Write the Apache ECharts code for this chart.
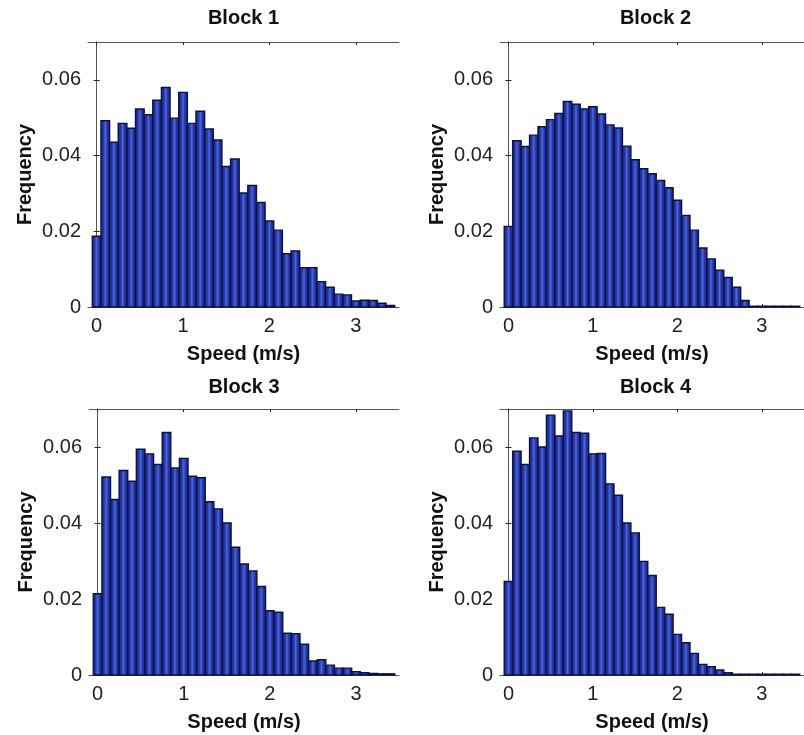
<!DOCTYPE html>
<html>
<head>
<meta charset="utf-8">
<script src="https://cdn.jsdelivr.net/npm/echarts@6/dist/echarts.min.js"></script>
<style>html,body{margin:0;padding:0;background:#fff}#c{width:804px;height:735px}</style>
</head>
<body>
<div id="c"></div>
<script>
const titles = ['Block 1', 'Block 2', 'Block 3', 'Block 4'];
const xName = 'Speed (m/s)';
const yName = 'Frequency';
const xTicks = [0, 1, 2, 3];
const yTicks = [0, 0.02, 0.04, 0.06];
const binCenters = [0.0,0.1,0.2,0.3,0.4,0.5,0.6,0.7,0.8,0.9,1.0,1.1,1.2,1.3,1.4,1.5,1.6,1.7,1.8,1.9,2.0,2.1,2.2,2.3,2.4,2.5,2.6,2.7,2.8,2.9,3.0,3.1,3.2,3.3,3.4];
const binWidth = 0.1;
const block1 = [0.0187,0.0492,0.0435,0.0485,0.0472,0.0523,0.0508,0.0546,0.0580,0.0499,0.0567,0.0485,0.0517,0.0470,0.0441,0.0371,0.0391,0.0301,0.0321,0.0276,0.0227,0.0203,0.0141,0.0148,0.0104,0.0104,0.0067,0.0052,0.0034,0.0032,0.0016,0.0018,0.0017,0.0010,0.0004];
const block2 = [0.0213,0.0439,0.0424,0.0454,0.0476,0.0495,0.0511,0.0543,0.0536,0.0523,0.0529,0.0510,0.0481,0.0473,0.0425,0.0389,0.0365,0.0352,0.0334,0.0315,0.0282,0.0242,0.0203,0.0156,0.0127,0.0097,0.0078,0.0052,0.0017,0.0002,0.0002,0.0002,0.0002,0.0002,0.0002];
const block3 = [0.0214,0.0521,0.0462,0.0538,0.0510,0.0594,0.0582,0.0554,0.0638,0.0545,0.0570,0.0523,0.0519,0.0456,0.0437,0.0400,0.0336,0.0292,0.0274,0.0233,0.0169,0.0165,0.0110,0.0109,0.0081,0.0037,0.0040,0.0026,0.0018,0.0018,0.0009,0.0006,0.0004,0.0003,0.0003];
const block4 = [0.0246,0.0589,0.0554,0.0624,0.0600,0.0684,0.0629,0.0695,0.0638,0.0636,0.0582,0.0583,0.0503,0.0473,0.0400,0.0374,0.0299,0.0262,0.0178,0.0160,0.0107,0.0085,0.0057,0.0028,0.0022,0.0013,0.0006,0.0002,0.0002,0.0002,0.0002,0.0002,0.0002,0.0002,0.0002];
const blocks = [block1, block2, block3, block4];

const grids = [
  {left: 88, top: 42, width: 311, height: 265},
  {left: 500, top: 42, width: 311, height: 265},
  {left: 89, top: 409, width: 310, height: 266},
  {left: 500, top: 409, width: 311, height: 266}
];
const titleY = [8, 8, 377, 377];

const FONT = 'Liberation Sans, Arial, sans-serif';
const axisColor = '#555';
const xAxes = [], yAxes = [], series = [], titleArr = [];
grids.forEach((g, i) => {
  titleArr.push({
    text: titles[i], left: g.left + g.width / 2, top: titleY[i], textAlign: 'center', padding: 0,
    textStyle: {fontFamily: FONT, fontSize: 20, fontWeight: 'bold', color: '#111'}
  });
  xAxes.push({
    type: 'value', gridIndex: i, min: -0.1, max: 3.5, position: 'bottom',
    name: xName, nameLocation: 'middle', nameGap: 37,
    nameTextStyle: {fontFamily: FONT, fontSize: 20, fontWeight: 'bold', color: '#111'},
    axisLine: {show: true, onZero: false, lineStyle: {color: axisColor, width: 1}},
    axisTick: {show: true, inside: true, length: 3, customValues: xTicks, lineStyle: {color: '#222'}},
    axisLabel: {show: true, customValues: xTicks, margin: 9, fontFamily: FONT, fontSize: 20, color: '#222'},
    splitLine: {show: false}
  });
  xAxes.push({
    type: 'value', gridIndex: i, min: -0.1, max: 3.5, position: 'top',
    axisLine: {show: true, onZero: false, lineStyle: {color: axisColor, width: 1}},
    axisTick: {show: true, inside: true, length: 3, customValues: xTicks, lineStyle: {color: '#222'}},
    axisLabel: {show: false}, splitLine: {show: false}
  });
  yAxes.push({
    type: 'value', gridIndex: i, min: 0, max: 0.07, position: 'left',
    name: yName, nameLocation: 'middle', nameGap: 53,
    nameTextStyle: {fontFamily: FONT, fontSize: 20, fontWeight: 'bold', color: '#111'},
    axisLine: {show: true, lineStyle: {color: axisColor, width: 1}},
    axisTick: {show: true, inside: true, length: 3, customValues: yTicks, lineStyle: {color: '#222'}},
    axisLabel: {show: true, margin: 7, customValues: yTicks, fontFamily: FONT, fontSize: 20, color: '#222',
      formatter: v => (v === 0 ? '0' : (+(+v).toFixed(2)).toString())},
    splitLine: {show: false}
  });
  yAxes.push({
    type: 'value', gridIndex: i, min: 0, max: 0.07, position: 'right',
    axisLine: {show: true, lineStyle: {color: axisColor, width: 1}},
    axisTick: {show: true, inside: true, length: 3, customValues: yTicks, lineStyle: {color: '#222'}},
    axisLabel: {show: false}, splitLine: {show: false}
  });
  series.push({
    type: 'custom', xAxisIndex: i * 2, yAxisIndex: i * 2,
    data: binCenters.map((c, k) => [c, blocks[i][k]]),
    renderItem: function (params, api) {
      const c = api.value(0), v = api.value(1);
      const p0 = api.coord([c - binWidth / 2, 0]);
      const p1 = api.coord([c + binWidth / 2, v]);
      return {
        type: 'rect',
        shape: {x: p0[0], y: p1[1], width: p1[0] - p0[0], height: p0[1] - p1[1]},
        style: {
          fill: {type: 'linear', x: 0, y: 0, x2: 1, y2: 0, colorStops: [
            {offset: 0, color: '#1b2688'}, {offset: 0.3, color: '#2434a6'},
            {offset: 0.5, color: '#4b67d8'}, {offset: 0.7, color: '#2434a6'},
            {offset: 1, color: '#1b2688'}]},
          stroke: '#0c1240', lineWidth: 1.4
        }
      };
    }
  });
});

const chart = echarts.init(document.getElementById('c'), null, {renderer: 'canvas'});
chart.setOption({
  animation: false,
  backgroundColor: '#fff',
  title: titleArr,
  grid: grids,
  xAxis: xAxes,
  yAxis: yAxes,
  series: series
});
</script>
</body>
</html>
